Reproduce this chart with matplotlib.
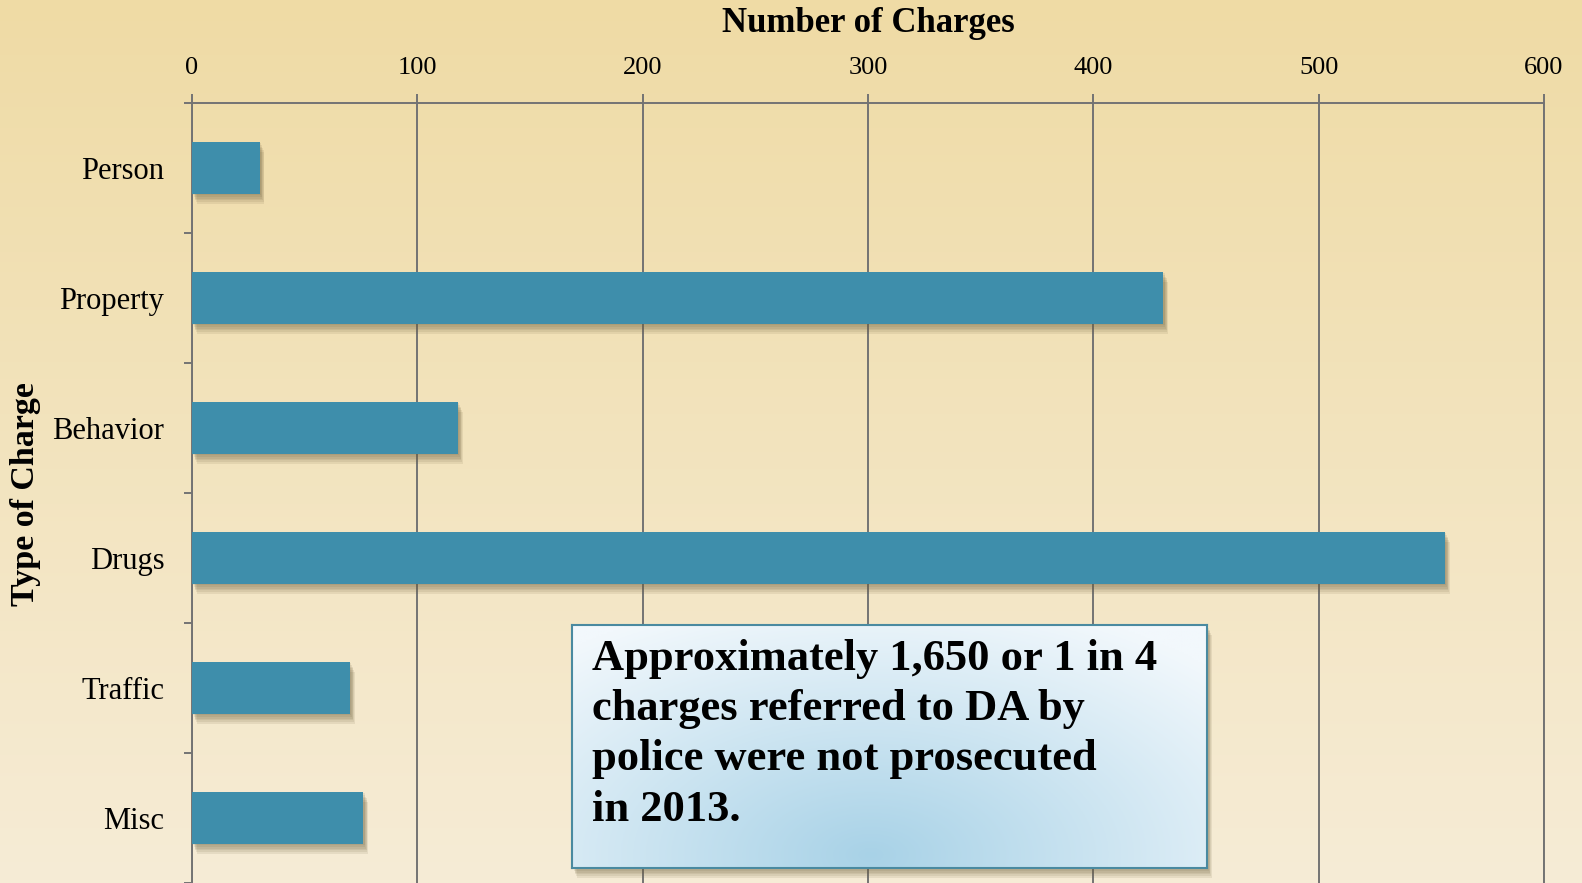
import matplotlib
matplotlib.use('Agg')
import matplotlib.pyplot as plt
import matplotlib.patheffects as pe
from matplotlib.patches import Rectangle
import numpy as np

categories = ['Person', 'Property', 'Behavior', 'Drugs', 'Traffic', 'Misc']
charges = [30, 431, 118, 556, 70, 76]
x_ticks = [0, 100, 200, 300, 400, 500, 600]
note = ("Approximately 1,650 or 1 in 4\n"
        "charges referred to DA by\n"
        "police were not prosecuted\n"
        "in 2013.")

plt.rcParams['font.family'] = ['Liberation Serif', 'DejaVu Serif']
grid_col = '#737373'
bar_col = '#3e8eab'

W, H = 1582, 883
fig = plt.figure(figsize=(W / 100, H / 100), dpi=100)

# page background, tan at the top fading to cream
bg = fig.add_axes([0, 0, 1, 1], zorder=0)
top = np.array([239, 219, 165]) / 255
bot = np.array([246, 236, 214]) / 255
t = np.linspace(0, 1, 256)[:, None]
grad = top * (1 - t) + bot * t
bg.imshow(grad[:, None, :], aspect='auto', extent=[0, 1, 0, 1])
bg.axis('off')

ax = fig.add_axes([192 / W, 0, (1544 - 192) / W, 1 - 103 / H], zorder=1)
ax.patch.set_alpha(0)

def soft_shadow():
    return [pe.SimplePatchShadow(offset=(1 + 0.5 * i, -1 - 1.2 * i),
                                 shadow_rgbFace='#6b5d3a', alpha=0.11)
            for i in range(6)]

y = np.arange(len(categories))
ax.barh(y, charges, height=0.4, color=bar_col, zorder=3,
        path_effects=soft_shadow() + [pe.Normal()])

ax.set_xlim(0, 600)
ax.set_ylim(len(categories) - 0.5, -0.5)
ax.xaxis.tick_top()
ax.set_xticks(x_ticks)
ax.set_xticklabels([str(v) for v in x_ticks])
ax.grid(axis='x', color=grid_col, lw=1.4, zorder=1)
ax.tick_params(axis='x', which='major', length=6.5, width=1.4, color=grid_col,
               labelsize=19, pad=11)

ax.set_yticks(y)
ax.set_yticklabels(categories)
ax.set_yticks(np.arange(-0.5, len(categories), 1), minor=True)
ax.tick_params(axis='y', which='major', length=0, labelsize=22, pad=20)
ax.tick_params(axis='y', which='minor', length=6, width=1.4, color=grid_col)

for s in ['top', 'left', 'right']:
    ax.spines[s].set_color(grid_col)
    ax.spines[s].set_linewidth(1.4)
ax.spines['bottom'].set_visible(False)

fig.text(868 / W, 1 - 23 / H, 'Number of Charges', ha='center', va='center',
         fontsize=25, fontweight='bold')
fig.text(26 / W, 1 - 494 / H, 'Type of Charge', ha='center', va='center',
         rotation=90, fontsize=24.5, fontweight='bold')

# note box with a soft blue radial fill
bx = [572 / W, 1 - 868 / H, 635 / W, 243 / H]
fig.patches.append(Rectangle((bx[0], bx[1]), bx[2], bx[3], transform=fig.transFigure,
                             facecolor='#4a8aa0', zorder=4,
                             path_effects=soft_shadow() + [pe.Normal()]))
axb = fig.add_axes(bx, zorder=5)
gx, gy = np.meshgrid(np.linspace(0, 1, 300), np.linspace(0, 1, 120))
r = np.clip(np.sqrt(((gx - 0.47) / 0.75) ** 2 + ((gy - 0.05) / 1.1) ** 2), 0, 1)
c_in = np.array([168, 210, 231]) / 255
c_out = np.array([242, 248, 252]) / 255
fill = c_in * (1 - r[..., None]) + c_out * r[..., None]
axb.imshow(fill, aspect='auto', extent=[0, 1, 0, 1], origin='lower')
axb.set_xticks([])
axb.set_yticks([])
for s in axb.spines.values():
    s.set_color('#4a8aa0')
    s.set_linewidth(1.5)
axb.text(20 / 635, 1 - 14 / 243, note, transform=axb.transAxes, ha='left', va='top',
         fontsize=32, fontweight='bold', linespacing=1.33)

fig.savefig('out.png', dpi=100)
